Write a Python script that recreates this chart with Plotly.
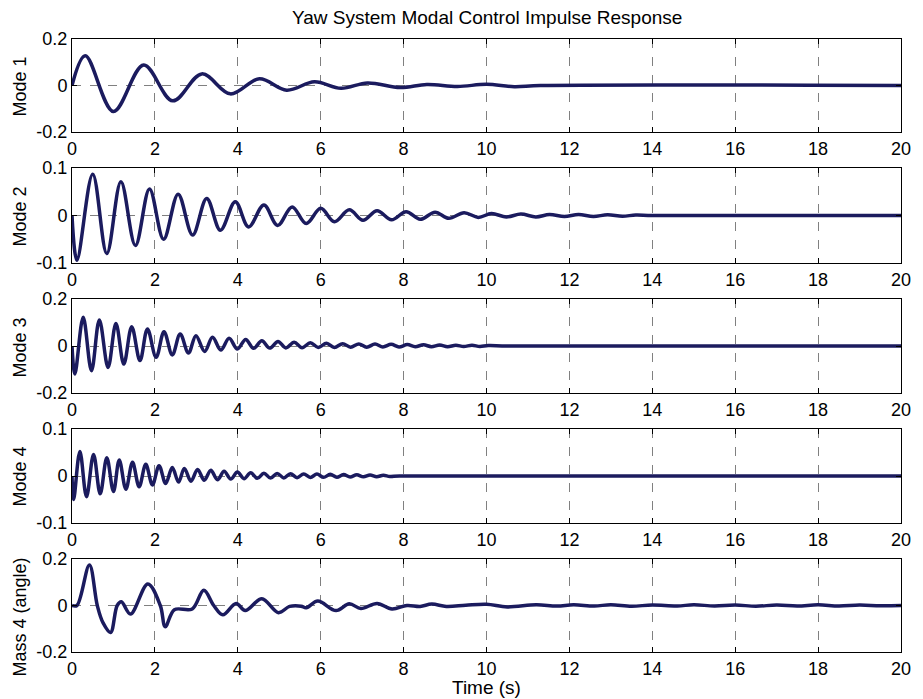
import plotly.graph_objects as go
from plotly.subplots import make_subplots

# Time axis ticks
x_ticks = [0, 2, 4, 6, 8, 10, 12, 14, 16, 18, 20]

# Mode 1 response: extrema read over time (s)
t_mode1 = [0, 0.32, 1.00, 1.73, 2.43, 3.13, 3.82, 4.52, 5.18, 5.85, 6.49, 7.13,
           7.92, 8.56, 9.30, 10.00, 10.67, 11.30, 20]
y_mode1 = [0, 0.128, -0.112, 0.088, -0.066, 0.050, -0.036, 0.029, -0.020, 0.016,
           -0.012, 0.011, -0.009, 0.004, -0.004, 0.005, -0.005, 0, 0]

# Mode 2 response
t_mode2 = [0, 0.12, 0.50, 0.84, 1.18, 1.53, 1.87, 2.21, 2.56, 2.91, 3.25, 3.58,
           3.94, 4.26, 4.63, 4.96, 5.31, 5.65, 6.00, 6.33, 6.69, 7.02, 7.36, 7.71,
           8.06, 8.40, 8.76, 9.09, 9.46, 9.80, 10.12, 10.48, 10.83, 11.19, 11.52,
           11.88, 12.22, 12.58, 12.92, 13.28, 13.60, 14.00, 20]
y_mode2 = [0, -0.094, 0.087, -0.080, 0.071, -0.063, 0.056, -0.050, 0.045, -0.041,
           0.036, -0.031, 0.029, -0.024, 0.022, -0.021, 0.018, -0.017, 0.015, -0.013,
           0.012, -0.010, 0.010, -0.009, 0.008, -0.008, 0.007, -0.006, 0.006, -0.004,
           0.004, -0.003, 0.003, -0.003, 0.002, -0.002, 0.002, -0.002, 0.0015,
           -0.0015, 0.001, 0, 0]

# Mode 3 response
t_mode3 = [0, 0.07, 0.27, 0.47, 0.66, 0.87, 1.06, 1.25, 1.44, 1.64, 1.82, 2.03,
           2.22, 2.42, 2.61, 2.81, 2.99, 3.20, 3.39, 3.59, 3.79, 3.99, 4.19, 4.38,
           4.58, 4.77, 4.97, 5.16, 5.36, 5.55, 5.75, 5.94, 6.14, 6.33, 6.53, 6.72,
           6.92, 7.11, 7.31, 7.50, 7.70, 7.89, 8.09, 8.28, 8.48, 8.67, 8.87, 9.06,
           9.26, 9.45, 9.65, 9.84, 10.04, 10.50, 20]
y_mode3 = [0, -0.119, 0.122, -0.105, 0.111, -0.091, 0.096, -0.077, 0.082, -0.062,
           0.072, -0.048, 0.061, -0.038, 0.051, -0.030, 0.044, -0.023, 0.037, -0.017,
           0.033, -0.013, 0.028, -0.010, 0.022, -0.009, 0.019, -0.008, 0.016, -0.007,
           0.014, -0.006, 0.012, -0.006, 0.010, -0.005, 0.009, -0.005, 0.008, -0.004,
           0.007, -0.004, 0.006, -0.003, 0.005, -0.003, 0.004, -0.003, 0.003, -0.002,
           0.003, -0.002, 0.002, 0, 0]

# Mode 4 response
t_mode4 = [0, 0.04, 0.19, 0.35, 0.52, 0.68, 0.84, 1.00, 1.14, 1.30, 1.46, 1.62,
           1.78, 1.94, 2.10, 2.26, 2.42, 2.57, 2.71, 2.87, 3.03, 3.19, 3.35, 3.51,
           3.67, 3.83, 3.99, 4.15, 4.31, 4.47, 4.63, 4.79, 4.95, 5.11, 5.27, 5.43,
           5.59, 5.75, 5.91, 6.07, 6.23, 6.39, 6.55, 6.71, 6.87, 7.03, 7.19, 7.35,
           7.51, 7.67, 7.90, 20]
y_mode4 = [0, -0.050, 0.052, -0.044, 0.046, -0.038, 0.039, -0.033, 0.034, -0.028,
           0.029, -0.023, 0.025, -0.019, 0.022, -0.016, 0.018, -0.013, 0.016, -0.011,
           0.014, -0.009, 0.012, -0.008, 0.010, -0.0065, 0.0085, -0.0057, 0.007,
           -0.005, 0.006, -0.0045, 0.0055, -0.004, 0.005, -0.0035, 0.0045, -0.003,
           0.004, -0.0028, 0.0035, -0.0025, 0.003, -0.002, 0.0025, -0.0018, 0.002,
           -0.0015, 0.0015, -0.001, 0, 0]

# Mass 4 angle response
t_mass4 = [0, 0.12, 0.42, 0.61, 0.75, 0.93, 1.09, 1.19, 1.41, 1.83, 2.13, 2.25,
           2.47, 2.90, 3.18, 3.42, 3.64, 3.96, 4.18, 4.58, 4.98, 5.25, 5.53, 5.65,
           5.93, 6.37, 6.69, 6.97, 7.36, 7.72, 8.08, 8.40, 8.68, 9.03, 9.50, 10.00,
           10.50, 11.20, 11.70, 12.10, 12.60, 13.00, 13.50, 14.00, 14.60, 15.00,
           15.50, 16.00, 16.50, 17.00, 17.50, 18.00, 18.50, 19.00, 19.50, 20]
y_mass4 = [0, 0, 0.174, 0, -0.075, -0.116, 0.0, 0.016, -0.037, 0.093, 0, -0.091,
           -0.018, -0.015, 0.066, 0, -0.040, 0.009, -0.022, 0.029, -0.031, -0.004,
           -0.003, -0.010, 0.019, -0.022, 0.007, -0.013, 0.009, -0.015, 0.0, -0.004,
           0.006, -0.004, 0.001, 0.005, -0.006, 0.003, -0.002, 0.003, -0.002, 0.003,
           -0.003, 0.002, -0.002, 0.003, -0.002, 0.002, -0.003, 0.002, -0.002, 0.003,
           -0.002, 0.002, -0.001, 0]

panel_labels = ["Mode 1", "Mode 2", "Mode 3", "Mode 4", "Mass 4 (angle)"]
label_centers_px = [86, 216, 347, 476, 617]
y_limits = [0.2, 0.1, 0.2, 0.1, 0.2]
series = [(t_mode1, y_mode1), (t_mode2, y_mode2), (t_mode3, y_mode3),
          (t_mode4, y_mode4), (t_mass4, y_mass4)]

W, H = 923, 699
ML, MR, MT, MB = 72, 14, 39, 47
plot_h = H - MT - MB
bottom_px = MT + plot_h


def py(pix):
    return (bottom_px - pix) / plot_h


# pixel extents (top, bottom) of each panel
panel_px = [(39, 132), (168, 263), (299, 393), (429, 523), (559, 652)]

FONT = "Liberation Sans, Arial, Helvetica, sans-serif"
LINE_COLOR = "#1b1b5e"

fig = make_subplots(rows=5, cols=1)

for i, ((t, y), lim, (top, bot)) in enumerate(zip(series, y_limits, panel_px)):
    r = i + 1
    fig.add_trace(go.Scatter(x=t, y=y, mode="lines",
                             line=dict(color=LINE_COLOR, width=3.5, shape="spline", smoothing=1),
                             showlegend=False, hoverinfo="skip"), row=r, col=1)
    ax_suffix = "" if r == 1 else str(r)
    fig.layout["xaxis" + ax_suffix].update(
        domain=[0, 1], range=[0, 20], tickvals=x_ticks,
        ticktext=[str(v) for v in x_ticks],
        showgrid=True, gridcolor="#808080", griddash="dash", gridwidth=1,
        zeroline=False, showline=True, linecolor="black", linewidth=1,
        mirror="ticks", ticks="inside", ticklen=5, tickcolor="black",
        tickfont=dict(family=FONT, size=18, color="black"))
    fig.layout["yaxis" + ax_suffix].update(
        domain=[py(bot), py(top)], range=[-lim, lim],
        tickvals=[-lim, 0, lim],
        ticktext=["-" + str(lim), "0", str(lim)],
        showgrid=True, gridcolor="#808080", griddash="dash", gridwidth=1,
        zeroline=False, showline=True, linecolor="black", linewidth=1,
        mirror="ticks", ticks="inside", ticklen=5, tickcolor="black",
        tickfont=dict(family=FONT, size=18, color="black"))
    fig.add_annotation(text=panel_labels[i], xref="paper", yref="paper",
                       x=(20 - ML) / (W - ML - MR), y=py(label_centers_px[i]),
                       textangle=-90, showarrow=False, xanchor="center", yanchor="middle",
                       font=dict(family=FONT, size=18, color="black"))

fig.add_annotation(text="Yaw System Modal Control Impulse Response", xref="paper", yref="paper",
                   x=0.5, y=py(17), showarrow=False, xanchor="center", yanchor="middle",
                   font=dict(family=FONT, size=19, color="black"))
fig.add_annotation(text="Time (s)", xref="paper", yref="paper",
                   x=0.5, y=py(687), showarrow=False, xanchor="center", yanchor="middle",
                   font=dict(family=FONT, size=19, color="black"))

fig.update_layout(width=W, height=H, margin=dict(l=ML, r=MR, t=MT, b=MB),
                  paper_bgcolor="white", plot_bgcolor="white")

fig.write_html("out.html")
